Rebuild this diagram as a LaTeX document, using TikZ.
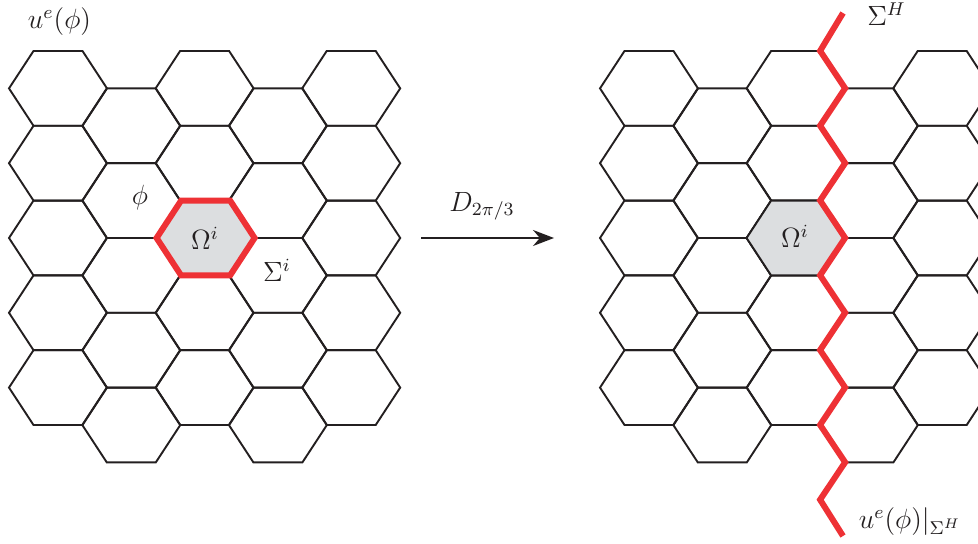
\documentclass[tikz,border=0pt]{standalone}
\usepackage{amsmath}
\usetikzlibrary{arrows.meta}
\definecolor{hexred}{RGB}{238,49,53}
\definecolor{hexgrey}{RGB}{220,222,224}
\definecolor{ink}{RGB}{35,31,32}
\tikzset{
  hexline/.style={draw=ink,line width=0.95pt,line join=miter},
  redline/.style={draw=hexred,line width=3pt,line join=miter},
  lab/.style={text=ink,inner sep=0pt,font=\large,scale=1.16},
}
% #1 = x of centre, #2 = y of centre
\newcommand{\hexpath}[2]{(#1-49,#2) -- (#1-24.5,#2-37.4) -- (#1+24.5,#2-37.4) -- (#1+49,#2) -- (#1+24.5,#2+37.4) -- (#1-24.5,#2+37.4) -- cycle}
\begin{document}
\begin{tikzpicture}[x=0.5pt,y=-0.5pt]
\useasboundingbox (0,0) rectangle (978,544);
\clip (0,0) rectangle (978,544);
\foreach \ox in {58,649}{
  \foreach \c in {0,2,4}{
    \foreach \r in {0,...,4}{
      \pgfmathsetmacro{\hx}{\ox+73.3*\c}
      \pgfmathsetmacro{\hy}{88.4+74.8*\r}
      \path[hexline] \hexpath{\hx}{\hy};
    }
  }
  \foreach \c in {1,3}{
    \foreach \r in {0,...,4}{
      \pgfmathsetmacro{\hx}{\ox+73.3*\c}
      \pgfmathsetmacro{\hy}{125.8+74.8*\r}
      \path[hexline] \hexpath{\hx}{\hy};
    }
  }
}
% left centre cell
\path[fill=hexgrey,redline] \hexpath{205.6}{238};
% right centre cell
\path[fill=hexgrey,hexline] \hexpath{795.6}{238};
% horizon
\path[redline] (843,13) -- (820.1,50.9) -- (845.1,88.3) -- (820.1,125.7) -- (845.1,163.1)
  -- (820.1,200.5) -- (845.1,237.9) -- (820.1,275.3) -- (845.1,312.7) -- (820.1,350.1)
  -- (845.1,387.5) -- (820.1,424.9) -- (845.1,462.3) -- (820.1,499.7) -- (843,536);
% arrow
\coordinate (arrA) at (421,238);
\coordinate (arrB) at (554,238);
\draw[draw=ink,line width=0.8pt,-{Stealth[length=10.5pt,width=8pt]}] (arrA) -- (arrB);
% labels
\node[lab] (ulab) at (59.5,22) {$u^e(\phi)$};
\node[lab] (philab) at (140,198) {$\phi$};
\node[lab] (omL) at (205,238) {$\Omega^i$};
\node[lab] (sigi) at (277,270) {$\Sigma^i$};
\node[lab] (omR) at (795,236) {$\Omega^i$};
\node[lab] (dlab) at (482,206) {$D_{2\pi/3}$};
\node[lab] (sigH) at (886.5,14) {$\Sigma^H$};
\node[lab] (urestr) at (910,522) {$u^e(\phi)|_{\Sigma^H}$};
\end{tikzpicture}
\end{document}
